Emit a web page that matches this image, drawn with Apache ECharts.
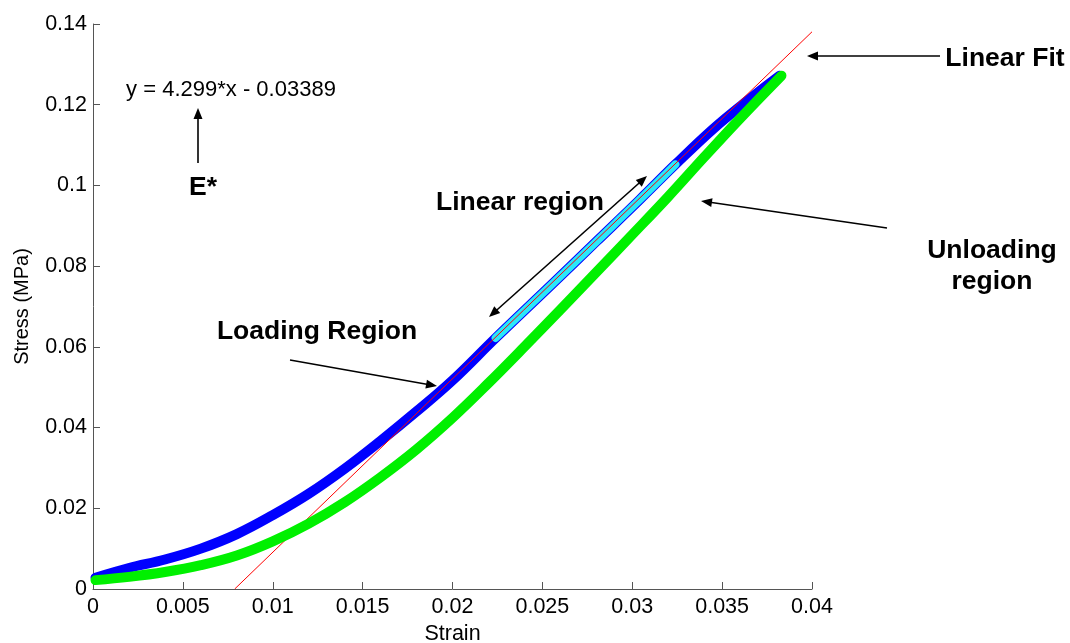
<!DOCTYPE html>
<html>
<head>
<meta charset="utf-8">
<title>Stress-strain loading cycle</title>
<script src="https://cdn.jsdelivr.net/npm/echarts@6/dist/echarts.min.js"></script>
<style>
  html, body { margin: 0; padding: 0; background: #fff; }
  #chart { width: 1070px; height: 643px; }
</style>
</head>
<body>
<div id="chart"></div>
<script>
// Loading branch (strain, stress in MPa)
const loadStrain = [0.00014, 0.002, 0.004, 0.006, 0.008, 0.010, 0.012, 0.014, 0.016, 0.018, 0.020, 0.0224, 0.0256, 0.028, 0.0304, 0.0324, 0.0345, 0.0364, 0.0382];
const loadStress = [0.0028, 0.0052, 0.0073, 0.0100, 0.0136, 0.0183, 0.0236, 0.0298, 0.0367, 0.0440, 0.0517, 0.0622, 0.0758, 0.0861, 0.0964, 0.1052, 0.1140, 0.1210, 0.1272];

// Portion of the loading branch used for the fit
const linStrain = [0.0224, 0.0256, 0.028, 0.0304, 0.0324];
const linStress = [0.0622, 0.0758, 0.0861, 0.0964, 0.1052];

// Unloading branch
const unloadStrain = [0.00014, 0.002, 0.004, 0.006, 0.008, 0.010, 0.012, 0.014, 0.016, 0.018, 0.020, 0.022, 0.024, 0.026, 0.028, 0.030, 0.032, 0.034, 0.036, 0.0383];
const unloadStress = [0.0022, 0.0030, 0.0042, 0.0059, 0.0083, 0.0118, 0.0162, 0.0215, 0.0277, 0.0346, 0.0424, 0.0510, 0.0600, 0.0692, 0.0785, 0.0878, 0.0972, 0.1070, 0.1166, 0.1272];

// Linear fit: y = slope * x + intercept
const fitSlope = 4.299;
const fitIntercept = -0.03389;
const fitRange = [-fitIntercept / fitSlope, 0.04];

const xTicks = { min: 0, max: 0.04, interval: 0.005 };
const yTicks = { min: 0, max: 0.14, interval: 0.02 };

const pairs = (xs, ys) => xs.map((x, i) => [x, ys[i]]);
const fitLine = fitRange.map(x => [x, fitSlope * x + fitIntercept]);

const chart = echarts.init(document.getElementById('chart'), null, { renderer: 'canvas' });

const FONT = '"Liberation Sans", Arial, Helvetica, sans-serif';

// Arrow helper: shaft plus filled triangular heads
function arrow(x1, y1, x2, y2, both) {
  const els = [];
  const ang = Math.atan2(y2 - y1, x2 - x1);
  const L = 11, W = 4.5;
  function head(px, py, a) {
    const bx = px - L * Math.cos(a), by = py - L * Math.sin(a);
    const nx = -Math.sin(a) * W, ny = Math.cos(a) * W;
    return {
      type: 'polygon', silent: true,
      shape: { points: [[px, py], [bx + nx, by + ny], [bx - nx, by - ny]] },
      style: { fill: '#000' }
    };
  }
  const sx = both ? x1 + (L - 2) * Math.cos(ang) : x1;
  const sy = both ? y1 + (L - 2) * Math.sin(ang) : y1;
  els.push({
    type: 'line', silent: true,
    shape: { x1: sx, y1: sy, x2: x2 - (L - 2) * Math.cos(ang), y2: y2 - (L - 2) * Math.sin(ang) },
    style: { stroke: '#000', lineWidth: 1.6 }
  });
  els.push(head(x2, y2, ang));
  if (both) els.push(head(x1, y1, ang + Math.PI));
  return els;
}

function label(text, x, y, size, bold) {
  return {
    type: 'text', silent: true, x: x, y: y,
    style: {
      text: text, fill: '#000', fontFamily: FONT, fontSize: size,
      fontWeight: bold ? 'bold' : 'normal', align: 'center', verticalAlign: 'middle',
      lineHeight: 31
    }
  };
}

const option = {
  backgroundColor: '#fff',
  animation: false,
  grid: { left: 93, right: 258, top: 24, bottom: 54, outerBoundsMode: 'none', containLabel: false },
  xAxis: {
    type: 'value', min: xTicks.min, max: xTicks.max, interval: xTicks.interval,
    name: 'Strain', nameLocation: 'middle', nameGap: 33,
    nameTextStyle: { color: '#000', fontSize: 21.5, fontFamily: FONT },
    axisLine: { onZero: false, lineStyle: { color: '#555', width: 1 } },
    axisTick: { inside: true, length: 7, lineStyle: { color: '#555' } },
    axisLabel: { color: '#000', fontSize: 21.5, fontFamily: FONT, margin: 7 },
    splitLine: { show: false }
  },
  yAxis: {
    type: 'value', min: yTicks.min, max: yTicks.max, interval: yTicks.interval,
    name: 'Stress (MPa)', nameLocation: 'middle', nameGap: 61, nameRotate: 90,
    nameTextStyle: { color: '#000', fontSize: 20, fontFamily: FONT },
    axisLine: { onZero: false, lineStyle: { color: '#555', width: 1 } },
    axisTick: { inside: true, length: 7, lineStyle: { color: '#555' } },
    axisLabel: { color: '#000', fontSize: 21.5, fontFamily: FONT, margin: 6 },
    splitLine: { show: false }
  },
  series: [
    {
      name: 'Loading', type: 'line', z: 2, smooth: 0.4, showSymbol: false,
      data: pairs(loadStrain, loadStress),
      lineStyle: { color: '#0000ff', width: 10, cap: 'round', join: 'round' }
    },
    {
      name: 'Linear region', type: 'line', z: 3, smooth: 0.4, showSymbol: false,
      data: pairs(linStrain, linStress),
      lineStyle: { color: '#2ae8f8', width: 8, cap: 'round', join: 'round' }
    },
    {
      name: 'Linear fit', type: 'line', z: 4, showSymbol: false,
      data: fitLine,
      lineStyle: { color: '#ff0000', width: 1 }
    },
    {
      name: 'Unloading', type: 'line', z: 5, smooth: 0.4, showSymbol: false,
      data: pairs(unloadStrain, unloadStress),
      lineStyle: { color: '#00f000', width: 10, cap: 'round', join: 'round' }
    }
  ],
  graphic: [
    label('y = 4.299*x - 0.03389', 231, 90, 22, false),
    label('E*', 203, 188, 26.5, true),
    label('Linear Fit', 1005, 59, 26.5, true),
    label('Unloading\nregion', 992, 266, 26.5, true),
    label('Linear region', 520, 203, 26.5, true),
    label('Loading Region', 317, 332, 26.5, true),
    ...arrow(198, 163, 198, 108, false),
    ...arrow(940, 56, 807, 56, false),
    ...arrow(887, 228, 701, 201, false),
    ...arrow(489, 317, 647, 176, true),
    ...arrow(290, 360, 437, 386, false)
  ]
};

chart.setOption(option);
</script>
</body>
</html>
